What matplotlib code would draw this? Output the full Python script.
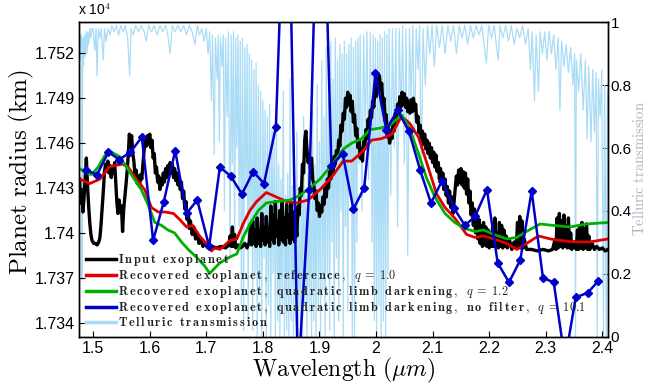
import numpy as np
import matplotlib
matplotlib.use("Agg")
import matplotlib.pyplot as plt

plt.rcParams['font.family'] = ['Liberation Sans', 'DejaVu Sans']
plt.rcParams['mathtext.fontset'] = 'cm'

# - input exoplanet radius (x 1e4 km) vs wavelength (um)
black_wl = [1.476, 1.478, 1.480, 1.482, 1.484, 1.486, 1.488, 1.490, 1.492, 1.494, 1.496, 1.498,
            1.501, 1.504, 1.507, 1.510, 1.512, 1.514, 1.516, 1.518, 1.520, 1.522, 1.524, 1.526,
            1.528, 1.530, 1.532, 1.534, 1.536, 1.538, 1.540, 1.542, 1.544, 1.546, 1.548, 1.550,
            1.552, 1.554, 1.556, 1.558, 1.560, 1.562, 1.564, 1.566, 1.568, 1.570, 1.572, 1.574,
            1.576, 1.578, 1.580, 1.582, 1.584, 1.586, 1.588, 1.590, 1.592, 1.594, 1.596, 1.598,
            1.600, 1.602, 1.604, 1.606, 1.608, 1.610, 1.612, 1.614, 1.616, 1.618, 1.620, 1.622,
            1.624, 1.626, 1.628, 1.630, 1.632, 1.634, 1.636, 1.638, 1.640, 1.642, 1.644, 1.646,
            1.648, 1.650, 1.652, 1.654, 1.656, 1.658, 1.660, 1.662, 1.664, 1.666, 1.668, 1.670,
            1.672, 1.675, 1.678, 1.681, 1.684, 1.687, 1.690, 1.694, 1.698, 1.703, 1.710, 1.718,
            1.726, 1.734, 1.740, 1.742, 1.744, 1.746, 1.748, 1.750, 1.752, 1.756, 1.760, 1.764,
            1.768, 1.772, 1.776, 1.778, 1.780, 1.782, 1.784, 1.786, 1.788, 1.790, 1.792, 1.794,
            1.796, 1.798, 1.800, 1.802, 1.804, 1.806, 1.808, 1.810, 1.812, 1.814, 1.816, 1.818,
            1.820, 1.822, 1.824, 1.826, 1.828, 1.830, 1.832, 1.834, 1.836, 1.838, 1.840, 1.842,
            1.844, 1.846, 1.848, 1.850, 1.852, 1.854, 1.856, 1.858, 1.860, 1.862, 1.864, 1.866,
            1.868, 1.870, 1.872, 1.874, 1.876, 1.878, 1.880, 1.882, 1.884, 1.886, 1.888, 1.890,
            1.892, 1.894, 1.896, 1.898, 1.900, 1.902, 1.904, 1.906, 1.908, 1.910, 1.912, 1.914,
            1.916, 1.918, 1.920, 1.922, 1.924, 1.926, 1.928, 1.930, 1.932, 1.934, 1.936, 1.938,
            1.940, 1.942, 1.944, 1.946, 1.948, 1.950, 1.952, 1.954, 1.956, 1.958, 1.960, 1.962,
            1.964, 1.966, 1.968, 1.970, 1.972, 1.974, 1.976, 1.978, 1.980, 1.982, 1.984, 1.986,
            1.988, 1.990, 1.992, 1.994, 1.996, 1.998, 2.000, 2.002, 2.004, 2.006, 2.008, 2.010,
            2.012, 2.014, 2.016, 2.018, 2.020, 2.022, 2.024, 2.026, 2.028, 2.030, 2.032, 2.034,
            2.036, 2.038, 2.040, 2.042, 2.044, 2.046, 2.048, 2.050, 2.052, 2.054, 2.056, 2.058,
            2.060, 2.062, 2.064, 2.066, 2.068, 2.070, 2.072, 2.074, 2.076, 2.078, 2.080, 2.082,
            2.084, 2.086, 2.088, 2.090, 2.092, 2.094, 2.096, 2.098, 2.100, 2.102, 2.104, 2.106,
            2.108, 2.110, 2.112, 2.114, 2.116, 2.118, 2.120, 2.122, 2.124, 2.126, 2.128, 2.130,
            2.132, 2.134, 2.136, 2.138, 2.140, 2.142, 2.144, 2.146, 2.148, 2.150, 2.152, 2.154,
            2.156, 2.158, 2.160, 2.162, 2.164, 2.166, 2.168, 2.170, 2.172, 2.174, 2.176, 2.178,
            2.180, 2.182, 2.184, 2.186, 2.188, 2.190, 2.192, 2.194, 2.196, 2.198, 2.200, 2.202,
            2.204, 2.206, 2.208, 2.210, 2.212, 2.214, 2.216, 2.218, 2.220, 2.222, 2.224, 2.226,
            2.228, 2.230, 2.232, 2.236, 2.240, 2.244, 2.248, 2.250, 2.252, 2.254, 2.256, 2.258,
            2.260, 2.262, 2.266, 2.275, 2.285, 2.295, 2.305, 2.312, 2.316, 2.318, 2.320, 2.322,
            2.324, 2.326, 2.328, 2.330, 2.332, 2.334, 2.336, 2.338, 2.340, 2.342, 2.344, 2.346,
            2.350, 2.354, 2.356, 2.358, 2.360, 2.362, 2.364, 2.366, 2.368, 2.370, 2.372, 2.374,
            2.376, 2.378, 2.382, 2.386, 2.390, 2.395, 2.400, 2.405, 2.410]
black_r = [1.7436, 1.7420, 1.7428, 1.7414, 1.7424, 1.7438, 1.7450, 1.7432, 1.7418, 1.7407, 1.7399, 1.7395,
           1.7393, 1.7393, 1.7392, 1.7394, 1.7397, 1.7406, 1.7417, 1.7428, 1.7441, 1.7446, 1.7441, 1.7448,
           1.7440, 1.7445, 1.7437, 1.7444, 1.7440, 1.7447, 1.7434, 1.7420, 1.7413, 1.7422, 1.7414, 1.7418,
           1.7401, 1.7416, 1.7424, 1.7432, 1.7441, 1.7452, 1.7466, 1.7458, 1.7465, 1.7453, 1.7448, 1.7438,
           1.7442, 1.7433, 1.7438, 1.7431, 1.7439, 1.7436, 1.7446, 1.7455, 1.7462, 1.7458, 1.7465, 1.7459,
           1.7466, 1.7457, 1.7462, 1.7450, 1.7453, 1.7440, 1.7444, 1.7434, 1.7438, 1.7429, 1.7436, 1.7432,
           1.7440, 1.7434, 1.7443, 1.7437, 1.7445, 1.7439, 1.7447, 1.7440, 1.7446, 1.7437, 1.7443, 1.7435,
           1.7440, 1.7432, 1.7438, 1.7429, 1.7434, 1.7423, 1.7428, 1.7416, 1.7421, 1.7409, 1.7414, 1.7403,
           1.7408, 1.7399, 1.7404, 1.7396, 1.7400, 1.7393, 1.7396, 1.7391, 1.7393, 1.7390, 1.7391, 1.7390,
           1.7391, 1.7390, 1.7392, 1.7398, 1.7391, 1.7404, 1.7391, 1.7399, 1.7390, 1.7392, 1.7390, 1.7391,
           1.7393, 1.7390, 1.7394, 1.7405, 1.7392, 1.7408, 1.7393, 1.7402, 1.7391, 1.7410, 1.7393, 1.7400,
           1.7391, 1.7413, 1.7395, 1.7404, 1.7392, 1.7411, 1.7394, 1.7401, 1.7391, 1.7418, 1.7396, 1.7412,
           1.7393, 1.7421, 1.7398, 1.7408, 1.7392, 1.7415, 1.7396, 1.7422, 1.7394, 1.7410, 1.7392, 1.7419,
           1.7397, 1.7412, 1.7393, 1.7420, 1.7396, 1.7414, 1.7394, 1.7408, 1.7398, 1.7418, 1.7412, 1.7430,
           1.7425, 1.7446, 1.7440, 1.7462, 1.7468, 1.7455, 1.7447, 1.7452, 1.7443, 1.7450, 1.7436, 1.7432,
           1.7423, 1.7428, 1.7415, 1.7420, 1.7411, 1.7418, 1.7414, 1.7424, 1.7419, 1.7430, 1.7424, 1.7436,
           1.7430, 1.7442, 1.7436, 1.7448, 1.7441, 1.7451, 1.7446, 1.7455, 1.7450, 1.7462, 1.7458, 1.7472,
           1.7468, 1.7480, 1.7476, 1.7490, 1.7484, 1.7494, 1.7486, 1.7492, 1.7481, 1.7488, 1.7474, 1.7479,
           1.7465, 1.7470, 1.7457, 1.7462, 1.7450, 1.7456, 1.7448, 1.7461, 1.7456, 1.7469, 1.7463, 1.7476,
           1.7470, 1.7482, 1.7477, 1.7488, 1.7484, 1.7496, 1.7491, 1.7503, 1.7497, 1.7505, 1.7495, 1.7500,
           1.7486, 1.7490, 1.7475, 1.7479, 1.7464, 1.7470, 1.7460, 1.7468, 1.7463, 1.7474, 1.7468, 1.7480,
           1.7475, 1.7486, 1.7481, 1.7491, 1.7484, 1.7494, 1.7486, 1.7493, 1.7484, 1.7490, 1.7481, 1.7488,
           1.7480, 1.7489, 1.7481, 1.7490, 1.7482, 1.7486, 1.7474, 1.7478, 1.7467, 1.7472, 1.7462, 1.7468,
           1.7459, 1.7466, 1.7456, 1.7462, 1.7453, 1.7460, 1.7450, 1.7457, 1.7447, 1.7454, 1.7444, 1.7452,
           1.7441, 1.7447, 1.7436, 1.7443, 1.7433, 1.7440, 1.7429, 1.7436, 1.7425, 1.7431, 1.7420, 1.7428,
           1.7417, 1.7424, 1.7413, 1.7421, 1.7430, 1.7438, 1.7432, 1.7442, 1.7434, 1.7443, 1.7432, 1.7441,
           1.7430, 1.7440, 1.7426, 1.7436, 1.7420, 1.7428, 1.7412, 1.7420, 1.7405, 1.7416, 1.7400, 1.7412,
           1.7396, 1.7409, 1.7393, 1.7405, 1.7391, 1.7407, 1.7392, 1.7404, 1.7391, 1.7402, 1.7390, 1.7400,
           1.7391, 1.7404, 1.7391, 1.7410, 1.7392, 1.7400, 1.7390, 1.7407, 1.7391, 1.7405, 1.7390, 1.7402,
           1.7391, 1.7398, 1.7390, 1.7395, 1.7389, 1.7394, 1.7390, 1.7407, 1.7391, 1.7411, 1.7390, 1.7408,
           1.7390, 1.7396, 1.7389, 1.7389, 1.7388, 1.7389, 1.7388, 1.7389, 1.7395, 1.7389, 1.7410, 1.7390,
           1.7413, 1.7391, 1.7408, 1.7390, 1.7412, 1.7391, 1.7405, 1.7390, 1.7410, 1.7390, 1.7400, 1.7389,
           1.7394, 1.7389, 1.7402, 1.7389, 1.7405, 1.7390, 1.7407, 1.7389, 1.7403, 1.7390, 1.7406, 1.7389,
           1.7398, 1.7389, 1.7393, 1.7389, 1.7391, 1.7389, 1.7390, 1.7388, 1.7389]

# - recovered, reference, q = 1.0
red_wl = [1.476, 1.494, 1.512, 1.528, 1.538, 1.552, 1.562, 1.576, 1.591, 1.603, 1.615, 1.627,
          1.642, 1.653, 1.665, 1.676, 1.688, 1.700, 1.709, 1.715, 1.724, 1.742, 1.754, 1.765,
          1.777, 1.789, 1.806, 1.824, 1.842, 1.859, 1.880, 1.901, 1.921, 1.942, 1.957, 1.975,
          1.992, 2.010, 2.028, 2.045, 2.060, 2.075, 2.092, 2.107, 2.122, 2.139, 2.160, 2.175,
          2.190, 2.208, 2.231, 2.249, 2.266, 2.287, 2.308, 2.325, 2.349, 2.378, 2.410]
red_r = [1.7436, 1.7433, 1.7436, 1.7444, 1.7445, 1.7446, 1.7444, 1.7436, 1.7429, 1.7417, 1.7414, 1.7414,
         1.7413, 1.7409, 1.7404, 1.7405, 1.7398, 1.7393, 1.7388, 1.7390, 1.7389, 1.7395, 1.7396, 1.7406,
         1.7415, 1.7421, 1.7427, 1.7424, 1.7421, 1.7420, 1.7422, 1.7429, 1.7437, 1.7448, 1.7448, 1.7454,
         1.7462, 1.7463, 1.7466, 1.7478, 1.7473, 1.7464, 1.7444, 1.7426, 1.7417, 1.7410, 1.7399, 1.7397,
         1.7398, 1.7396, 1.7393, 1.7389, 1.7393, 1.7398, 1.7396, 1.7395, 1.7394, 1.7394, 1.7396]

# - recovered, quadratic limb darkening, q = 1.2
green_wl = [1.476, 1.488, 1.497, 1.509, 1.521, 1.532, 1.547, 1.559, 1.571, 1.585, 1.597, 1.609,
            1.621, 1.632, 1.644, 1.656, 1.668, 1.682, 1.697, 1.706, 1.724, 1.742, 1.754, 1.765,
            1.777, 1.792, 1.806, 1.824, 1.848, 1.865, 1.883, 1.901, 1.921, 1.942, 1.957, 1.975,
            1.989, 2.007, 2.025, 2.045, 2.060, 2.075, 2.089, 2.104, 2.122, 2.139, 2.157, 2.175,
            2.190, 2.208, 2.231, 2.249, 2.266, 2.290, 2.314, 2.343, 2.372, 2.410]
green_r = [1.7443, 1.7440, 1.7439, 1.7444, 1.7452, 1.7454, 1.7451, 1.7444, 1.7437, 1.7429, 1.7419, 1.7407,
           1.7405, 1.7402, 1.7400, 1.7394, 1.7389, 1.7384, 1.7378, 1.7373, 1.7380, 1.7384, 1.7386, 1.7397,
           1.7406, 1.7415, 1.7420, 1.7421, 1.7422, 1.7425, 1.7430, 1.7436, 1.7445, 1.7456, 1.7460, 1.7463,
           1.7469, 1.7470, 1.7472, 1.7479, 1.7469, 1.7453, 1.7437, 1.7424, 1.7413, 1.7407, 1.7403, 1.7401,
           1.7402, 1.7399, 1.7396, 1.7397, 1.7401, 1.7406, 1.7405, 1.7404, 1.7406, 1.7407]

# - recovered, quadratic limb darkening, no filter, q = 10.1
blue_wl = [1.487, 1.507, 1.527, 1.546, 1.566, 1.586, 1.606, 1.625, 1.645, 1.665, 1.684, 1.705,
           1.724, 1.743, 1.763, 1.783, 1.802, 1.823, 1.843, 1.862, 1.882, 1.902, 1.921, 1.941,
           1.960, 1.979, 1.999, 2.018, 2.038, 2.058, 2.078, 2.097, 2.117, 2.137, 2.157, 2.175,
           2.196, 2.215, 2.235, 2.255, 2.275, 2.295, 2.314, 2.334, 2.353, 2.374, 2.393]
blue_r = [1.7442, 1.7439, 1.7454, 1.7449, 1.7454, 1.7464, 1.7395, 1.7421, 1.7455, 1.7413, 1.7422, 1.7391,
          1.7444, 1.7438, 1.7426, 1.7441, 1.7433, 1.7471, 1.7690, 1.7301, 1.7429, 1.7713, 1.7445, 1.7453,
          1.7416, 1.7430, 1.7507, 1.7469, 1.7482, 1.7468, 1.7442, 1.7420, 1.7435, 1.7417, 1.7405, 1.7411,
          1.7429, 1.7380, 1.7367, 1.7382, 1.7428, 1.7370, 1.7367, 1.7315, 1.7357, 1.7360, 1.7368]

# - telluric transmission
tell_wl = [1.4755, 1.4770, 1.4785, 1.4800, 1.4805, 1.4815, 1.4830, 1.4845, 1.4860, 1.4875, 1.4890, 1.4905,
           1.4920, 1.4940, 1.4960, 1.4980, 1.500, 1.503, 1.505, 1.507, 1.509, 1.512, 1.514, 1.518,
           1.520, 1.523, 1.526, 1.530, 1.533, 1.537, 1.541, 1.545, 1.549, 1.553, 1.557, 1.561,
           1.5645, 1.567, 1.571, 1.575, 1.580, 1.585, 1.590, 1.594, 1.598, 1.603, 1.608, 1.613,
           1.618, 1.623, 1.628, 1.632, 1.636, 1.640, 1.645, 1.650, 1.655, 1.660, 1.665, 1.670,
           1.675, 1.680, 1.684, 1.688, 1.692, 1.696, 1.700, 1.703, 1.706, 1.709, 1.711, 1.714,
           1.716, 1.719, 1.721, 1.723, 1.725, 1.728, 1.730, 1.732, 1.734, 1.737, 1.739, 1.742,
           1.744, 1.746, 1.748, 1.750, 1.752, 1.754, 1.756, 1.758, 1.760, 1.762, 1.764, 1.766,
           1.768, 1.770, 1.772, 1.774, 1.776, 1.778, 1.780, 1.782, 1.784, 1.786, 1.788, 1.790,
           1.792, 1.794, 1.796, 1.798, 1.800, 1.802, 1.804, 1.806, 1.808, 1.810, 1.812, 1.814,
           1.816, 1.818, 1.820, 1.822, 1.824, 1.826, 1.828, 1.830, 1.832, 1.834, 1.836, 1.838,
           1.840, 1.842, 1.844, 1.846, 1.848, 1.850, 1.852, 1.854, 1.856, 1.858, 1.860, 1.862,
           1.864, 1.866, 1.868, 1.870, 1.872, 1.874, 1.876, 1.878, 1.880, 1.882, 1.884, 1.886,
           1.888, 1.890, 1.892, 1.894, 1.896, 1.898, 1.900, 1.902, 1.904, 1.906, 1.908, 1.910,
           1.912, 1.914, 1.916, 1.918, 1.920, 1.922, 1.924, 1.926, 1.928, 1.930, 1.932, 1.934,
           1.936, 1.938, 1.940, 1.942, 1.944, 1.946, 1.948, 1.950, 1.952, 1.954, 1.956, 1.958,
           1.960, 1.962, 1.964, 1.966, 1.968, 1.970, 1.972, 1.975, 1.978, 1.981, 1.984, 1.987,
           1.990, 1.993, 1.995, 1.997, 1.999, 2.001, 2.003, 2.005, 2.007, 2.009, 2.011, 2.013,
           2.015, 2.017, 2.019, 2.021, 2.023, 2.026, 2.029, 2.032, 2.035, 2.038, 2.041, 2.044,
           2.047, 2.050, 2.053, 2.056, 2.059, 2.062, 2.065, 2.068, 2.071, 2.074, 2.077, 2.080,
           2.083, 2.087, 2.091, 2.095, 2.099, 2.103, 2.107, 2.112, 2.117, 2.122, 2.127, 2.132,
           2.137, 2.142, 2.147, 2.152, 2.157, 2.162, 2.167, 2.172, 2.177, 2.182, 2.187, 2.191,
           2.195, 2.199, 2.204, 2.209, 2.213, 2.216, 2.219, 2.224, 2.229, 2.234, 2.239, 2.244,
           2.249, 2.254, 2.259, 2.264, 2.269, 2.273, 2.276, 2.280, 2.283, 2.287, 2.290, 2.294,
           2.298, 2.302, 2.306, 2.310, 2.314, 2.318, 2.322, 2.325, 2.328, 2.332, 2.336, 2.340,
           2.344, 2.348, 2.351, 2.3525, 2.354, 2.358, 2.362, 2.366, 2.370, 2.373, 2.376, 2.380,
           2.383, 2.386, 2.389, 2.391, 2.393, 2.396, 2.399, 2.402, 2.404, 2.407, 2.409, 2.412]
tell_tr = [0.97, 0.88, 0.96, 0.93, 0.18, 0.95, 0.86, 0.96, 0.89, 0.97, 0.90, 0.97,
           0.93, 0.98, 0.95, 0.98, 0.98, 0.91, 0.98, 0.83, 0.98, 0.95, 0.98, 0.88,
           0.98, 0.94, 0.98, 0.96, 0.99, 0.97, 0.99, 0.96, 0.99, 0.97, 0.99, 0.95,
           0.83, 0.98, 0.96, 0.99, 0.97, 0.99, 0.97, 0.94, 0.99, 0.97, 0.99, 0.96,
           0.99, 0.97, 0.99, 0.96, 0.90, 0.99, 0.97, 0.99, 0.97, 0.99, 0.96, 0.99,
           0.97, 0.93, 0.99, 0.96, 0.98, 0.94, 0.98, 0.90, 0.97, 0.75, 0.96, 0.58,
           0.95, 0.82, 0.96, 0.62, 0.95, 0.86, 0.96, 0.40, 0.95, 0.70, 0.97, 0.25,
           0.96, 0.55, 0.97, 0.30, 0.95, 0.60, 0.96, 0.35, 0.94, 0.10, 0.95, 0.02,
           0.92, 0.45, 0.93, 0.05, 0.90, 0.30, 0.88, 0.02, 0.85, 0.20, 0.87, 0.00,
           0.80, 0.15, 0.78, 0.00, 0.75, 0.25, 0.72, 0.00, 0.70, 0.10, 0.74, 0.00,
           0.66, 0.20, 0.62, 0.00, 0.70, 0.05, 0.55, 0.00, 0.50, 0.10, 0.78, 0.00,
           0.45, 0.02, 0.52, 0.00, 0.82, 0.05, 0.48, 0.00, 0.40, 0.15, 0.65, 0.00,
           0.38, 0.05, 0.55, 0.00, 0.70, 0.10, 0.45, 0.00, 0.60, 0.08, 0.50, 0.00,
           0.72, 0.05, 0.55, 0.00, 0.80, 0.10, 0.62, 0.00, 0.88, 0.15, 0.70, 0.00,
           0.92, 0.20, 0.75, 0.02, 0.94, 0.30, 0.82, 0.00, 0.95, 0.25, 0.88, 0.05,
           0.93, 0.40, 0.90, 0.00, 0.94, 0.35, 0.90, 0.08, 0.93, 0.45, 0.95, 0.00,
           0.92, 0.00, 0.94, 0.30, 0.95, 0.55, 0.96, 0.40, 0.96, 0.65, 0.97, 0.50,
           0.97, 0.30, 0.96, 0.05, 0.95, 0.00, 0.94, 0.10, 0.96, 0.00, 0.95, 0.05,
           0.97, 0.00, 0.96, 0.20, 0.98, 0.45, 0.98, 0.60, 0.98, 0.35, 0.98, 0.70,
           0.99, 0.55, 0.98, 0.26, 0.98, 0.75, 0.99, 0.60, 0.98, 0.85, 0.99, 0.50,
           0.98, 0.80, 0.99, 0.90, 0.99, 0.86, 0.99, 0.92, 0.99, 0.90, 0.99, 0.94,
           0.99, 0.90, 0.99, 0.95, 0.99, 0.93, 0.99, 0.95, 0.99, 0.96, 0.99, 0.93,
           0.87, 0.99, 0.95, 0.99, 0.92, 0.88, 0.99, 0.95, 0.99, 0.94, 0.99, 0.93,
           0.98, 0.95, 0.99, 0.93, 0.98, 0.85, 0.97, 0.75, 0.96, 0.78, 0.97, 0.90,
           0.97, 0.88, 0.97, 0.90, 0.96, 0.85, 0.95, 0.72, 0.94, 0.86, 0.93, 0.84,
           0.92, 0.80, 0.90, 0.00, 0.88, 0.78, 0.90, 0.72, 0.88, 0.63, 0.86, 0.62,
           0.85, 0.65, 0.84, 0.00, 0.82, 0.70, 0.85, 0.00, 0.80, 0.00, 0.78, 0.75]

labels = ["Input exoplanet",
          "Recovered exoplanet, reference, $q = 1.0$",
          "Recovered exoplanet, quadratic limb darkening, $q = 1.2$",
          "Recovered exoplanet, quadratic limb darkening, no filter, $q = 10.1$",
          "Telluric transmission"]


def bold_label(text):
    # - letter-spaced bold computer-modern text, q part kept in normal math
    parts = text.split("$")
    head = parts[0].strip()
    chars = [r"\ " if c == " " else c for c in head]
    out = r"$\mathbf{" + r"\,".join(chars) + "}"
    if len(parts) > 1:
        out += r"\ \ " + parts[1].replace(" = ", r"\;=\;")
    return out + "$"


fig = plt.figure(figsize=(6.46, 3.88), dpi=100)
ax = fig.add_axes([0.1223, 0.1322, 0.8189, 0.8103])
ax2 = ax.twinx()

# - telluric behind the planet curves
ax.set_zorder(ax2.get_zorder() + 1)
ax.patch.set_visible(False)

tl, = ax2.plot(tell_wl, tell_tr, color="#aadcf6", lw=0.9)
ax2.set_ylim(0, 1)

bl, = ax.plot(black_wl, black_r, color="black", lw=2.4)
rl, = ax.plot(red_wl, red_r, color="#e00000", lw=2.0)
gl, = ax.plot(green_wl, green_r, color="#00b000", lw=2.0)
ul, = ax.plot(blue_wl, blue_r, color="#0000c8", lw=1.8, marker="D", markersize=4.5)

ax.set_xlim(1.475, 2.41)
ax.set_ylim(1.73307, 1.75407)

ax.set_xticks(np.arange(1.5, 2.41, 0.1))
ax.set_xticklabels(["1.5", "1.6", "1.7", "1.8", "1.9", "2", "2.1", "2.2", "2.3", "2.4"])
ax.set_yticks([1.734, 1.737, 1.740, 1.743, 1.746, 1.749, 1.752])
ax.set_yticklabels(["1.734", "1.737", "1.74", "1.743", "1.746", "1.749", "1.752"])
ax2.set_yticks([0, 0.2, 0.4, 0.6, 0.8, 1.0])
ax2.set_yticklabels(["0", "0.2", "0.4", "0.6", "0.8", "1"])

for a in (ax, ax2):
    a.tick_params(direction="in", length=4, width=0.8, labelsize=11.5, pad=3)
    for s in a.spines.values():
        s.set_linewidth(1.0)
ax2.tick_params(labelsize=11, pad=2)

ax.set_xlabel(r"$\mathrm{Wavelength}\ (\mu m)$", fontsize=17, labelpad=0)
fig.text(21 / 646, 1 - 172 / 388, r"$\mathrm{Planet\ radius\ (km)}$", fontsize=18,
         rotation=90, ha="center", va="center")
fig.text(639 / 646, 0.566, r"$\mathrm{Telluric\ transmission}$", fontsize=10.5,
         color="#a6b4c4", rotation=90, ha="center", va="center")

fig.text(0.1207, 0.953, r"x 10$^4$", fontsize=10, ha="left", va="bottom")

leg = ax.legend([bl, rl, gl, ul, tl], [bold_label(t) for t in labels],
                loc="lower left", bbox_to_anchor=(0.0, 0.0), frameon=False,
                fontsize=8.8, handlelength=2.4, handletextpad=0.2,
                labelspacing=0.0, borderaxespad=0.2)
for h in leg.legend_handles:
    h.set_linewidth(2.5)
    h.set_marker("None")
for t in leg.get_texts():
    t.set_color("#222222")

fig.savefig("out.png", dpi=100)
